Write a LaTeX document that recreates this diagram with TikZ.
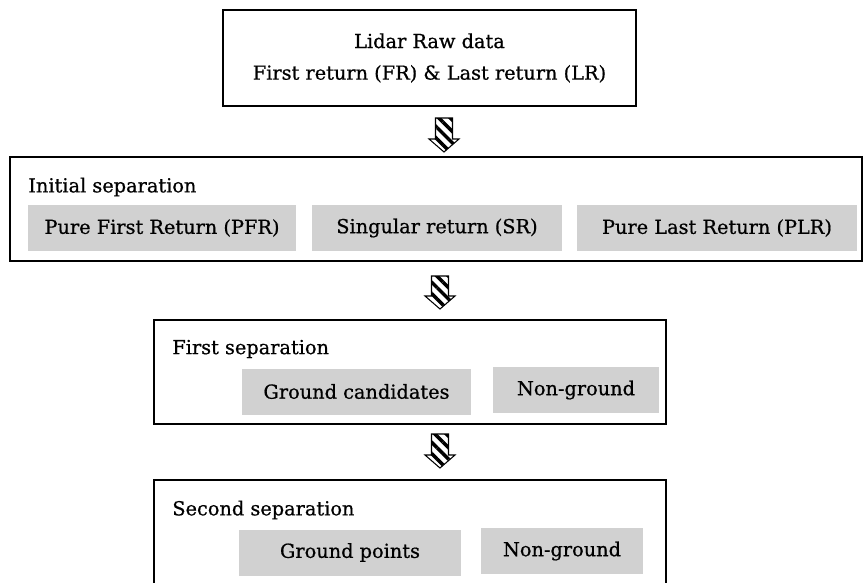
\documentclass[tikz,border=0pt]{standalone}
\usepackage{fontspec}
\setmainfont{DejaVu Serif}[BoldFont={DejaVu Serif}, BoldFeatures={FakeBold=0.7}]
\usetikzlibrary{calc, patterns.meta}

% flèche hachurée entre deux coordonnées (haut, bas)
\newcommand{\flechehachuree}[2]{%
  \draw[fleche] ($(#1)+(-8.5,0)$) -- ($(#1)+(8.5,0)$) -- ($(#2)+(8.5,-13)$)
    -- ($(#2)+(15,-13)$) -- (#2) -- ($(#2)+(-15,-13)$) -- ($(#2)+(-8.5,-13)$) -- cycle;}

\begin{document}
\begin{tikzpicture}[x=0.02cm, y=-0.02cm,
    every node/.style={font=\fontsize{11}{13}\selectfont\bfseries},
    cadre/.style={draw, line width=1.2pt, inner sep=0pt},
    case/.style={fill=black!18, inner sep=0pt, minimum height=0.92cm},
    titre/.style={anchor=west, inner sep=0pt},
    fleche/.style={draw, line width=0.6pt,
        pattern={Lines[angle=-45, distance=4.6pt, line width=2pt]}}]

    \useasboundingbox (0,0) rectangle (865,582);

    % Cadres principaux
    \node[cadre, minimum width=8.26cm, minimum height=1.92cm, align=center] (raw) at (429.5,58)
        {Lidar Raw data\\[5pt] First return (FR) \& Last return (LR)};
    \node[cadre, minimum width=17.04cm, minimum height=2.08cm] (init) at (436,209) {};
    \node[cadre, minimum width=10.24cm, minimum height=2.08cm] (first) at (410,372) {};
    \node[cadre, minimum width=10.24cm, minimum height=2.2cm] (second) at (410,535) {};

    % Titres
    \node[titre] (tinit) at (28,187) {Initial separation};
    \node[titre] (tfirst) at (172,349) {First separation};
    \node[titre] (tsecond) at (172,510) {Second separation};

    % Cases grises
    \node[case, minimum width=5.36cm] (pfr) at (162,228) {Pure First Return (PFR)};
    \node[case, minimum width=5cm] (sr) at (437,228) {Singular return (SR)};
    \node[case, minimum width=5.6cm] (plr) at (717,228) {Pure Last Return (PLR)};
    \node[case, minimum width=4.58cm] (gc) at (356.5,391.5) {Ground candidates};
    \node[case, minimum width=3.32cm] (ng1) at (576,390) {Non-ground};
    \node[case, minimum width=4.44cm] (gp) at (350,552.5) {Ground points};
    \node[case, minimum width=3.24cm] (ng2) at (562,551) {Non-ground};

    % Flèches
    \coordinate (h1) at (444,118); \coordinate (b1) at (444,152);
    \coordinate (h2) at (440,276); \coordinate (b2) at (440,309);
    \coordinate (h3) at (440,434); \coordinate (b3) at (440,468);
    \flechehachuree{h1}{b1}
    \flechehachuree{h2}{b2}
    \flechehachuree{h3}{b3}

\end{tikzpicture}
\end{document}
